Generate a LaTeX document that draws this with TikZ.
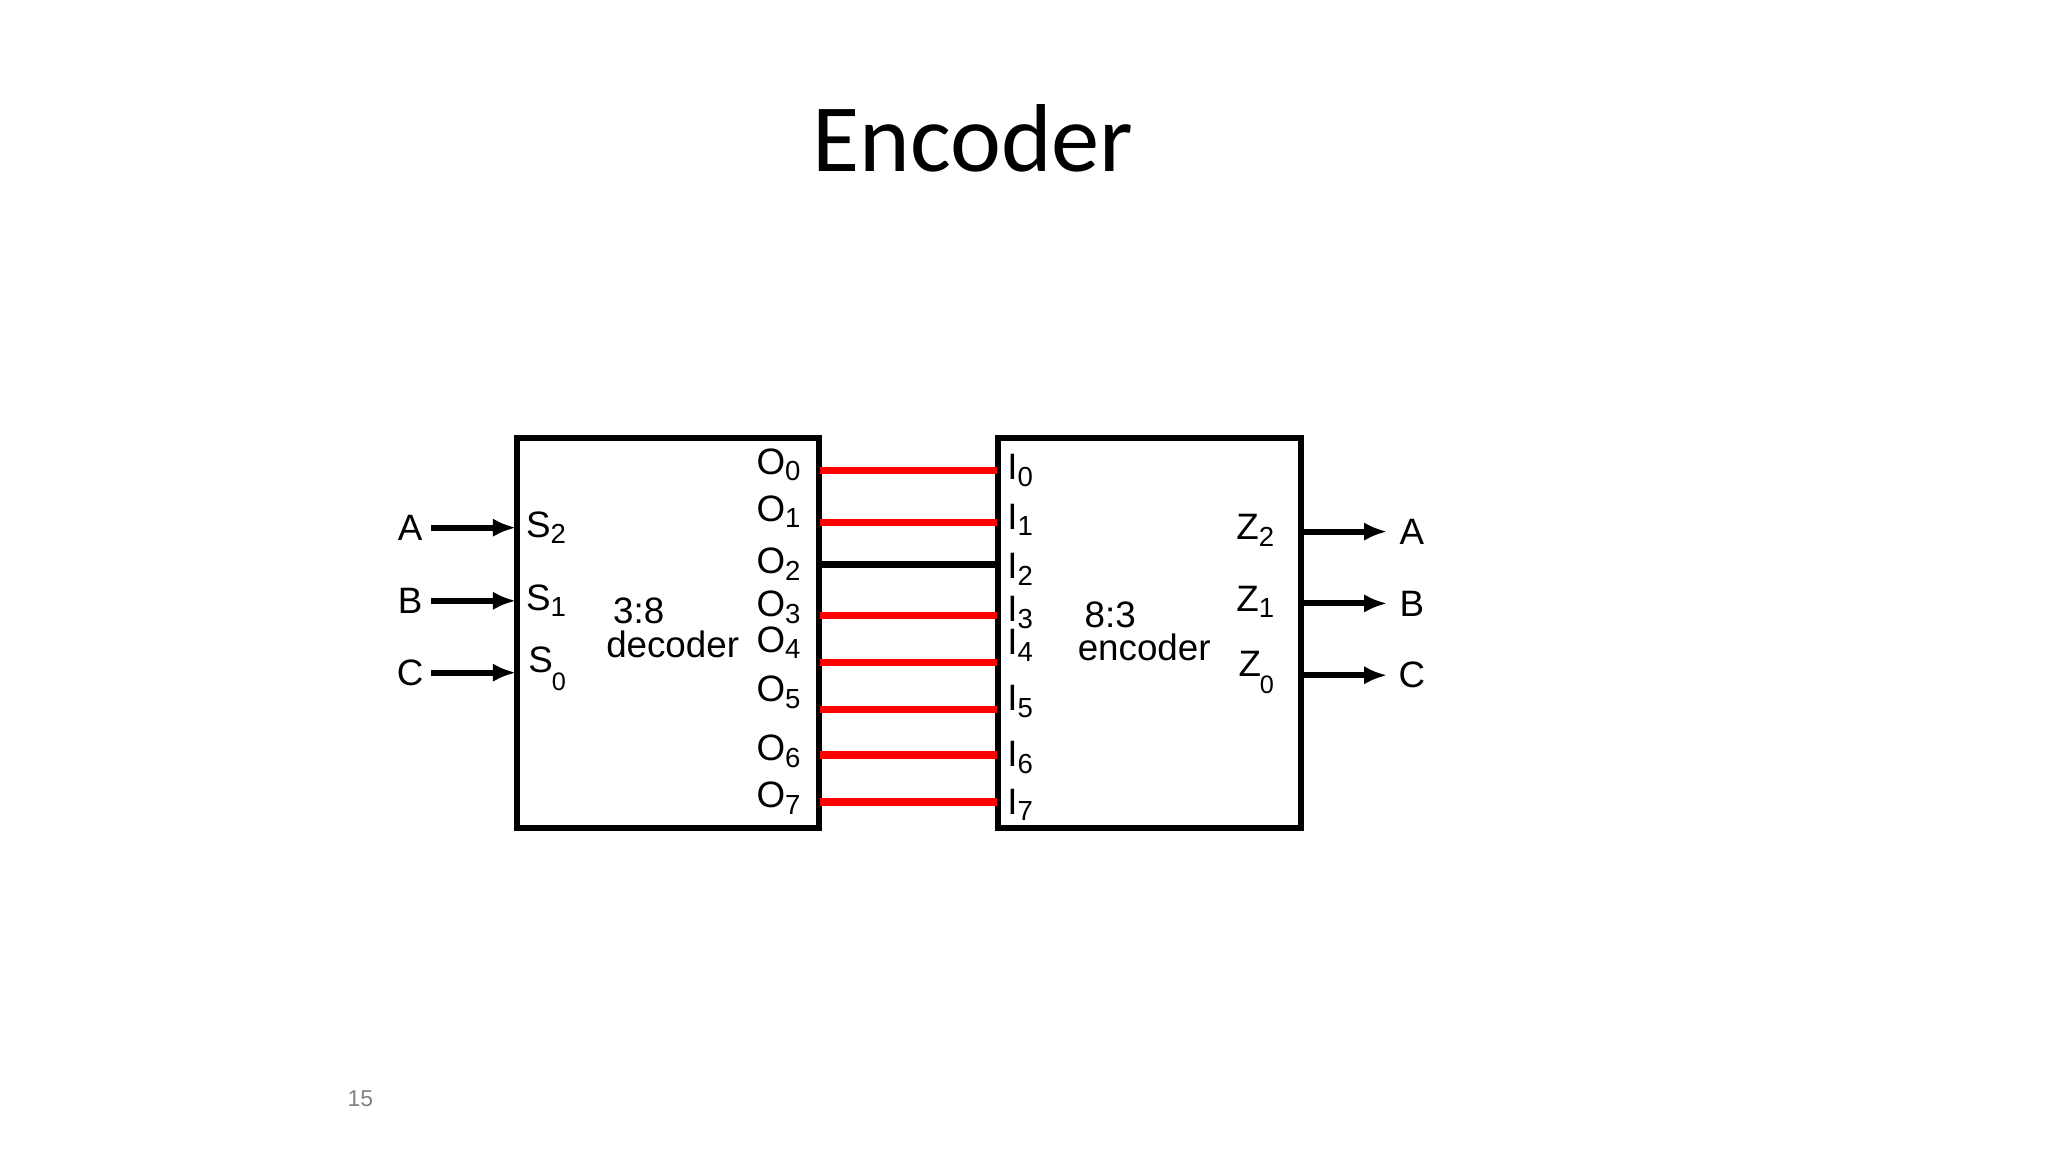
\documentclass[tikz,border=0pt]{standalone}
\usepackage{fontspec}
\setmainfont{Liberation Sans}
\newfontfamily\titlefont{Carlito}
\usetikzlibrary{arrows.meta}
\begin{document}
\begin{tikzpicture}[x=0.01cm,y=-0.01cm,
  lbl/.style={font=\fontsize{8}{9}\selectfont,inner sep=0pt},
  box/.style={draw,line width=1.3pt},
  wire/.style={red,line width=1.6pt},
  bwire/.style={black,line width=1.6pt},
  arr/.style={line width=1.3pt,-{Latex[length=5pt,width=4pt]}}]
\useasboundingbox (0,0) rectangle (1568,882);
\node[font=\titlefont\fontsize{21}{24}\selectfont] (title) at (745,106) {Encoder};
\node[font=\fontsize{5}{6}\selectfont,text=gray,inner sep=0pt] (pg) at (276,841) {15};
\draw[box] (396,335) rectangle (627,634);
\draw[box] (764,335) rectangle (996,634);
% wires
\foreach \y/\n in {360/0,400/1,471/3,507/4,543/5,578/6,614/7}
  \draw[wire] (628,\y) coordinate (o\n) -- (763,\y) coordinate (i\n);
\draw[bwire] (628,432) coordinate (o2) -- (763,432) coordinate (i2);
% inputs
\foreach \y/\t [count=\k] in {404/A,460/B,515/C}{
  \node[lbl] (in\k) at (314,\y) {\t};
  \coordinate (ie\k) at (395,\y);
  \draw[arr] (330,\y) -- (ie\k);
}
\node[lbl] (s2) at (419,404) {S\textsubscript{2}};
\node[lbl] (s1) at (419,460) {S\textsubscript{1}};
\node[lbl] (s0) at (414,505) {S};
\node[font=\fontsize{5.5}{6}\selectfont,inner sep=0pt] (s0b) at (428,522) {0};
% outputs
\foreach \y/\t [count=\k] in {407/A,462/B,517/C}{
  \coordinate (oe\k) at (997,\y);
  \draw[arr] (oe\k) -- (1062,\y);
  \node[lbl] (out\k) at (1081,\y) {\t};
}
\node[lbl] (z2) at (962,406) {Z\textsubscript{2}};
\node[lbl] (z1) at (962,461) {Z\textsubscript{1}};
\node[lbl] (z0) at (957,508) {Z};
\node[font=\fontsize{5.5}{6}\selectfont,inner sep=0pt] (z0b) at (970,524) {0};
% O labels
\foreach \y/\n in {356/0,392/1,432/2,465/3,492/4,530/5,575/6,611/7}
  \node[lbl] (ol\n) at (597,\y) {O\textsubscript{\n}};
\foreach \y/\n in {360/0,398/1,436/2,469/3,494/4,537/5,580/6,616/7}
  \node[lbl] (il\n) at (782,\y) {I\textsubscript{\n}};
\node[lbl] (d1) at (489,468) {3:8};
\node[lbl] (d2) at (515,493) {decoder};
\node[lbl] (e1) at (850,471) {8:3};
\node[lbl] (e2) at (876,496) {encoder};
\end{tikzpicture}
\end{document}
